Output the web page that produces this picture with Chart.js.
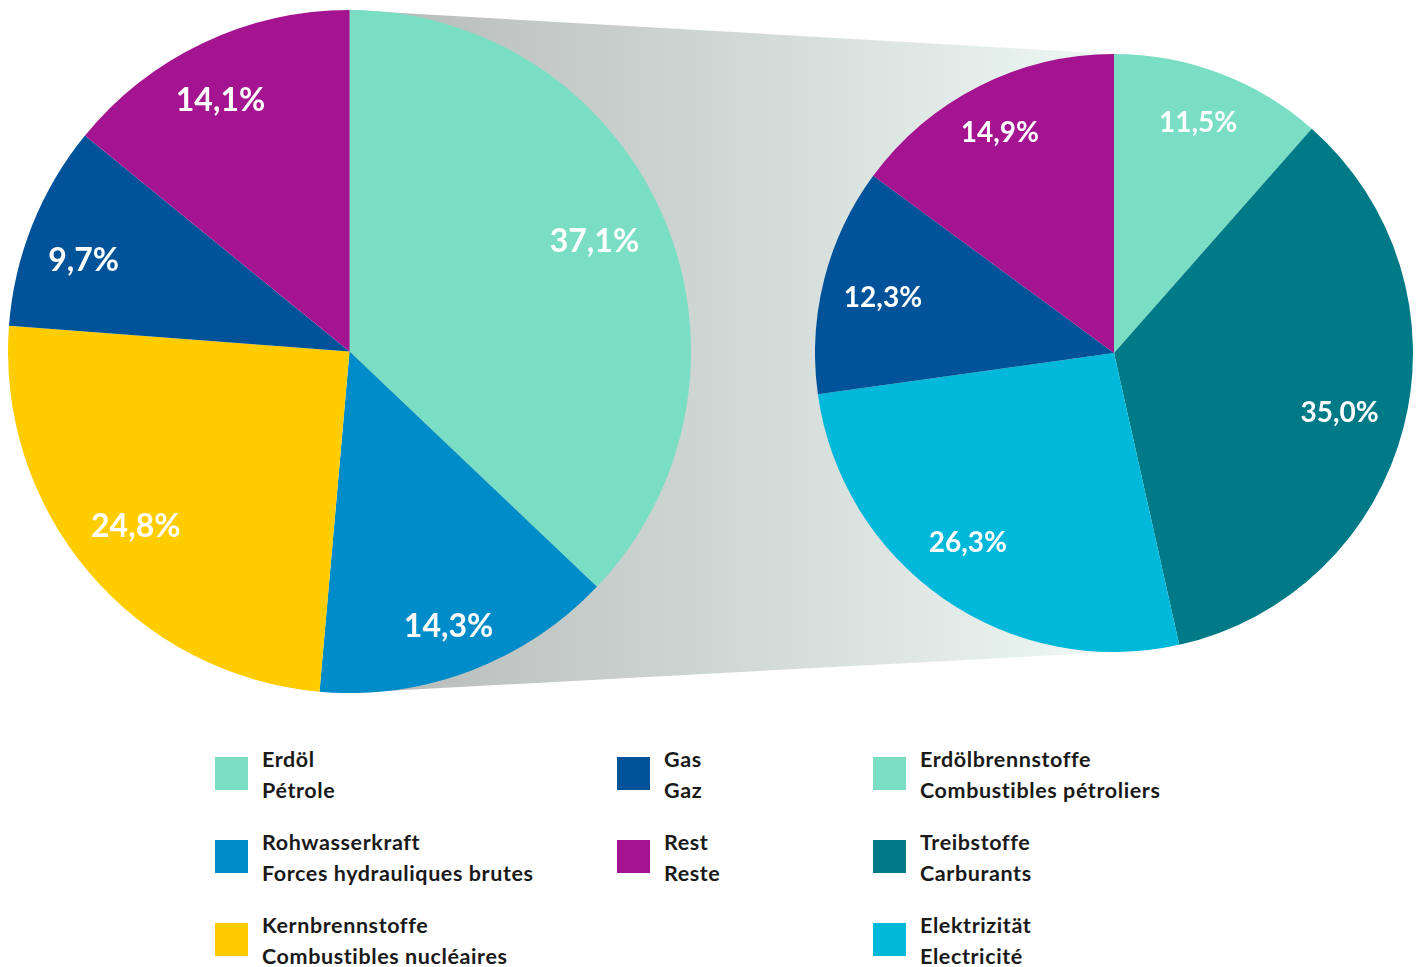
<!DOCTYPE html>
<html>
<head>
<meta charset="utf-8">
<script src="https://cdn.jsdelivr.net/npm/chart.js@4.4.1/dist/chart.umd.min.js"></script>
<style>
  html, body { margin: 0; padding: 0; background: #ffffff; }
  body { width: 1419px; height: 967px; position: relative; overflow: hidden; font-family: Lato, "Open Sans", sans-serif; }
  #connector {
    position: absolute; left: 349px; top: 10px; width: 765px; height: 683px;
    background: linear-gradient(to right, #b3b9b6 0%, #eef8f5 100%);
    clip-path: polygon(0px 0px, 765px 44px, 765px 642px, 0px 683px);
  }
  canvas { position: absolute; }
  #pieLeft { left: 8px; top: 10px; }
  #pieRight { left: 815px; top: 54px; }
  .lg { position: absolute; }
  .sw { position: absolute; left: 0; top: 0; width: 33px; height: 33px; }
  .tx { position: absolute; left: 47px; top: -13.5px; font-family: Lato, sans-serif; font-weight: 700; font-size: 21.5px; letter-spacing: 0.6px; line-height: 31px; color: #1a1a1a; white-space: nowrap; }
</style>
</head>
<body>
<div id="connector"></div>
<canvas id="pieLeft" width="683" height="683"></canvas>
<canvas id="pieRight" width="598" height="598"></canvas>
<div id="legend"></div>
<script>
// ---- data ----
const leftLabelsDE = ["Erdöl", "Rohwasserkraft", "Kernbrennstoffe", "Gas", "Rest"];
const leftLabelsFR = ["Pétrole", "Forces hydrauliques brutes", "Combustibles nucléaires", "Gaz", "Reste"];
const leftValues = [37.1, 14.3, 24.8, 9.7, 14.1];
const leftColors = ["#7adec4", "#008cc8", "#ffcc00", "#005299", "#a51490"];

const rightLabelsDE = ["Erdölbrennstoffe", "Treibstoffe", "Elektrizität", "Gas", "Rest"];
const rightLabelsFR = ["Combustibles pétroliers", "Carburants", "Electricité", "Gaz", "Reste"];
const rightValues = [11.5, 35.0, 26.3, 12.3, 14.9];
const rightColors = ["#7adec4", "#007a87", "#00b8da", "#005299", "#a51490"];

// ---- label plugin (white percentage labels inside slices) ----
const pctLabels = {
  id: 'pctLabels',
  afterDatasetsDraw(chart, args, opts) {
    const ctx = chart.ctx;
    const meta = chart.getDatasetMeta(0);
    const data = chart.data.datasets[0].data;
    ctx.save();
    ctx.fillStyle = '#ffffff';
    ctx.font = '700 ' + opts.size + 'px Lato, sans-serif';
    ctx.textAlign = 'center';
    ctx.textBaseline = 'alphabetic';
    const capHalf = opts.size * 0.36;
    meta.data.forEach((arc, i) => {
      const p = arc.getProps(['x', 'y', 'startAngle', 'endAngle', 'outerRadius'], true);
      const mid = (p.startAngle + p.endAngle) / 2 + (opts.angleShift[i] || 0) * Math.PI / 180;
      const r = p.outerRadius * opts.frac[i];
      const txt = data[i].toFixed(1).replace('.', ',') + '%';
      ctx.fillText(txt, p.x + Math.cos(mid) * r, p.y + Math.sin(mid) * r + capHalf);
    });
    ctx.restore();
  }
};

function makePie(id, labels, values, colors, labelOpts) {
  return new Chart(document.getElementById(id), {
    type: 'pie',
    data: {
      labels: labels,
      datasets: [{ data: values, backgroundColor: colors, borderWidth: 0 }]
    },
    options: {
      responsive: false,
      animation: false,
      layout: { padding: 0 },
      plugins: {
        legend: { display: false },
        tooltip: { enabled: false },
        pctLabels: labelOpts
      }
    },
    plugins: [pctLabels]
  });
}

makePie('pieLeft', leftLabelsDE, leftValues, leftColors,
  { size: 32, frac: [0.787, 0.852, 0.808, 0.824, 0.83], angleShift: [-1.1, 0.8, 1.1, -2.7, -1.7] });
makePie('pieRight', rightLabelsDE, rightValues, rightColors,
  { size: 28, frac: [0.822, 0.78, 0.799, 0.795, 0.832], angleShift: [-0.7, 0.3, 3.0, -0.6, -0.5] });

// ---- legend ----
const legendItems = [
  { de: leftLabelsDE[0], fr: leftLabelsFR[0], c: leftColors[0], col: 0, row: 0 },
  { de: leftLabelsDE[1], fr: leftLabelsFR[1], c: leftColors[1], col: 0, row: 1 },
  { de: leftLabelsDE[2], fr: leftLabelsFR[2], c: leftColors[2], col: 0, row: 2 },
  { de: leftLabelsDE[3], fr: leftLabelsFR[3], c: leftColors[3], col: 1, row: 0 },
  { de: leftLabelsDE[4], fr: leftLabelsFR[4], c: leftColors[4], col: 1, row: 1 },
  { de: rightLabelsDE[0], fr: rightLabelsFR[0], c: rightColors[0], col: 2, row: 0 },
  { de: rightLabelsDE[1], fr: rightLabelsFR[1], c: rightColors[1], col: 2, row: 1 },
  { de: rightLabelsDE[2], fr: rightLabelsFR[2], c: rightColors[2], col: 2, row: 2 }
];
const colX = [215, 617, 873];
const rowY = [757, 840, 923];
const lg = document.getElementById('legend');
legendItems.forEach(it => {
  const d = document.createElement('div');
  d.className = 'lg';
  d.style.left = colX[it.col] + 'px';
  d.style.top = rowY[it.row] + 'px';
  const sw = document.createElement('div');
  sw.className = 'sw';
  sw.style.background = it.c;
  const tx = document.createElement('div');
  tx.className = 'tx';
  tx.textContent = it.de;
  tx.appendChild(document.createElement('br'));
  tx.appendChild(document.createTextNode(it.fr));
  d.appendChild(sw);
  d.appendChild(tx);
  lg.appendChild(d);
});
</script>
</body>
</html>
